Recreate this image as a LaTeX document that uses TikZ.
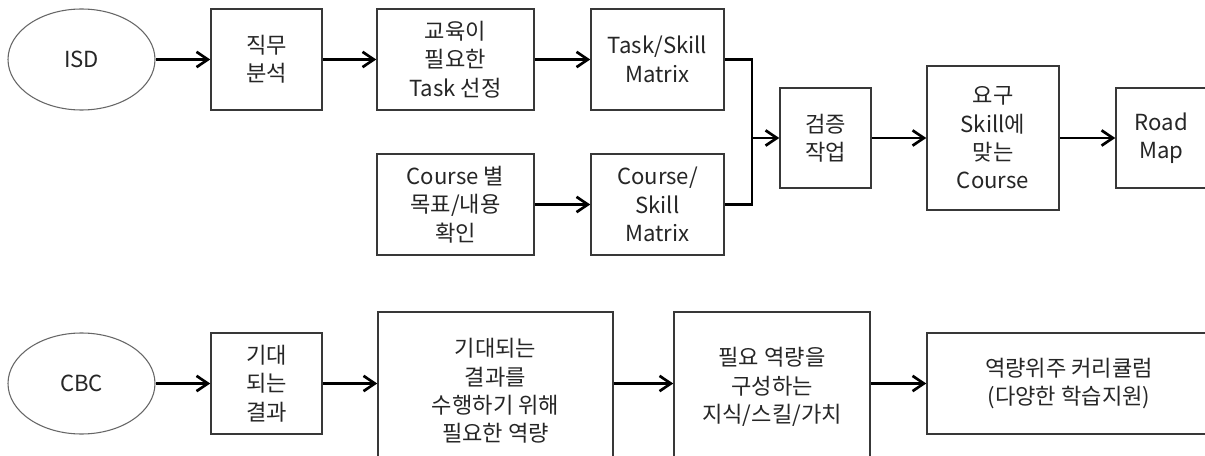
\documentclass[tikz,border=0pt]{standalone}
\usepackage{fontspec}
\newfontfamily\kfont{Noto Sans CJK KR}
\usetikzlibrary{shapes.geometric,arrows.meta}

\tikzset{
  base/.style={align=center, inner sep=0pt, text=black!85,
    font={\kfont\fontsize{16.6pt}{21.3pt}\selectfont}},
  stepbox/.style={base, rectangle, draw=black!78, line width=1.15pt},
  oval/.style={base, ellipse, draw=black!60, line width=0.8pt},
  flow/.style={line width=2.1pt, draw=black,
    -{Straight Barb[length=8.5pt,width=11.5pt,line width=2pt]}},
  joint/.style={line width=2.1pt, draw=black},
}

\begin{document}
\begin{tikzpicture}[x=0.75pt, y=-0.75pt]
  \fill[white] (0,0) rectangle (1205,456);
  \clip (0,0) rectangle (1205,456);

  % ISD track
  \node[oval, minimum width={147*0.75pt}, minimum height={101*0.75pt}] (isd) at (81.5,59.5) {ISD};
  \node[stepbox, minimum width={111*0.75pt}, minimum height={101*0.75pt}] (job) at (266.5,59.5) {직무\\분석};
  \node[stepbox, minimum width={157*0.75pt}, minimum height={101*0.75pt}] (edu) at (455.5,59.5) {교육이\\필요한\\Task 선정};
  \node[stepbox, minimum width={133*0.75pt}, minimum height={101*0.75pt}] (tsm) at (657.5,59.5) {Task/Skill\\Matrix};
  \node[stepbox, minimum width={157*0.75pt}, minimum height={101*0.75pt}] (cobj) at (455.5,204.5) {Course 별\\목표/내용\\확인};
  \node[stepbox, minimum width={133*0.75pt}, minimum height={101*0.75pt}] (csm) at (657.5,204.5) {Course/\\Skill\\Matrix};
  \node[stepbox, minimum width={91*0.75pt}, minimum height={100*0.75pt}] (verify) at (825.5,138) {검증\\작업};
  \node[stepbox, minimum width={132*0.75pt}, minimum height={144*0.75pt}] (req) at (993,138) {요구\\Skill에\\맞는\\Course};
  \node[stepbox, minimum width={91*0.75pt}, minimum height={100*0.75pt}] (road) at (1161.5,138) {Road\\Map};

  \coordinate (j) at (752,138);

  \draw[flow] (isd) -- (job);
  \draw[flow] (job) -- (edu);
  \draw[flow] (edu) -- (tsm);
  \draw[flow] (cobj) -- (csm);
  \draw[joint] (tsm.east) -| (j) |- (csm.east);
  \draw[flow] (j) -- (verify);
  \draw[flow] (verify) -- (req);
  \draw[flow] (req) -- (road);

  % CBC track
  \node[oval, minimum width={147*0.75pt}, minimum height={101*0.75pt}] (cbc) at (81.5,383.5) {CBC};
  \node[stepbox, minimum width={111*0.75pt}, minimum height={101*0.75pt}] (expect) at (266.5,383.5) {기대\\되는\\결과};
  \node[stepbox, minimum width={235*0.75pt}, minimum height={158*0.75pt}] (comp) at (495.5,391) {기대되는\\결과를\\수행하기 위해\\필요한 역량};
  \node[stepbox, minimum width={196*0.75pt}, minimum height={150*0.75pt}] (know) at (772,387) {필요 역량을\\구성하는\\지식/스킬/가치};
  \node[stepbox, minimum width={284*0.75pt}, minimum height={101*0.75pt}] (curr) at (1069,383.5) {역량위주 커리큘럼\\(다양한 학습지원)};

  \draw[flow] (cbc) -- (expect);
  \draw[flow] (expect.east) -- (expect.east -| comp.west);
  \draw[flow] (comp.east |- expect.east) -- (expect.east -| know.west);
  \draw[flow] (know.east |- expect.east) -- (curr.west);
\end{tikzpicture}
\end{document}
